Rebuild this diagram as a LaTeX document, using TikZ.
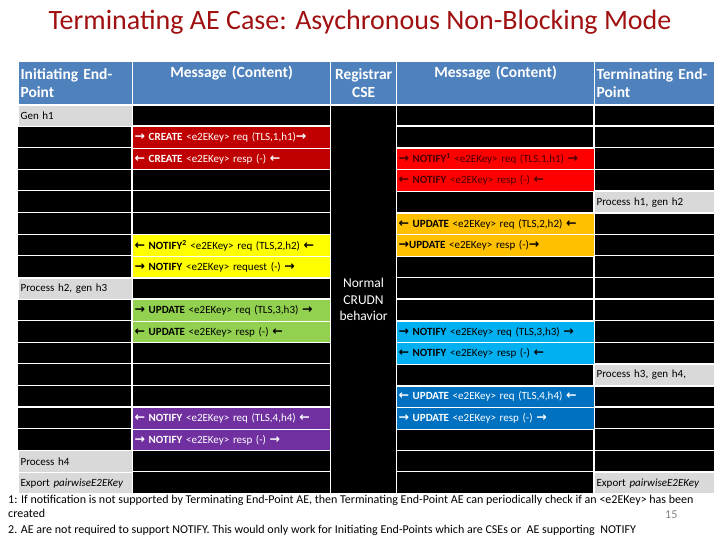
\documentclass[tikz,border=0pt]{standalone}
\usepackage{fontspec}
\setmainfont{Carlito}
\newfontfamily\arrowfont{DejaVu Sans}
\newcommand{\arrR}{{\arrowfont\bfseries\fontsize{12.5}{13}\selectfont →}}
\newcommand{\arrL}{{\arrowfont\bfseries\fontsize{12.5}{13}\selectfont ←}}
\definecolor{hdrblue}{HTML}{4F81BD}
\definecolor{dred}{HTML}{C00000}
\definecolor{brred}{HTML}{FF0000}
\definecolor{orng}{HTML}{FFC000}
\definecolor{yllw}{HTML}{FFFF00}
\definecolor{grn}{HTML}{92D050}
\definecolor{lblue}{HTML}{00B0F0}
\definecolor{dblue}{HTML}{0070C0}
\definecolor{prpl}{HTML}{7030A0}
\definecolor{lgray}{HTML}{D9D9D9}
\definecolor{titlered}{RGB}{160,16,16}
\definecolor{maroon}{RGB}{70,0,0}
\begin{document}
\begin{tikzpicture}[x=1pt, y=-1pt,
  cell/.style={draw=white, line width=1.2pt, anchor=north west, minimum height=21.6pt,
    inner ysep=0pt, inner xsep=2pt, align=left, font=\fontsize{11}{13}\selectfont},
  colA/.style={cell, text width=110pt, at={(18,{82.9+21.6*#1})}},
  colB/.style={cell, text width=194pt, at={(132,{82.9+21.6*#1})}},
  colD/.style={cell, text width=194pt, at={(396,{82.9+21.6*#1})}},
  colE/.style={cell, text width=116pt, at={(594,{82.9+21.6*#1})}},
  hdr/.style={draw=white, line width=1.2pt, anchor=north west, fill=hdrblue, text=white,
    minimum height=43.5pt, inner xsep=2pt, inner ysep=2pt, font=\fontsize{15.5}{18.5}\selectfont\bfseries},
  grid/.style={white, line width=1.2pt},
  note/.style={anchor=base west, inner sep=0pt, font=\fontsize{12}{14}\selectfont}]
\useasboundingbox (0,0) rectangle (720,540);
\node[text=titlered, font=\fontsize{28}{32}\selectfont] (title) at (360,22) {Terminating AE Case: Asychronous Non-Blocking Mode};

\fill[black] (18,104.5) rectangle (714,493.3);
\foreach \r in {1,...,17}
  \draw[grid] (18,{104.5+21.6*\r}) -- (330,{104.5+21.6*\r})
              (396,{104.5+21.6*\r}) -- (714,{104.5+21.6*\r});
\foreach \x in {132,594}
  \draw[grid] (\x,104.5) -- (\x,493.3);

\node[hdr, text width=110pt, align=left] (hinit) at (18,61) {Initiating End-\\Point};
\node[hdr, text width=194pt, align=center] (hmsg1) at (132,61) {Message (Content)\\\strut};
\node[hdr, text width=62pt, align=center] (hreg) at (330,61) {Registrar\\CSE};
\node[hdr, text width=194pt, align=center] (hmsg2) at (396,61) {Message (Content)\\\strut};
\node[hdr, text width=116pt, align=left] (hterm) at (594,61) {Terminating End-\\Point};

\node[colA=1, fill=lgray] (gen1) {Gen h1};
\node[colA=9, fill=lgray] (proc2) {Process h2, gen h3};
\node[colA=17, fill=lgray] (proc4) {Process h4};
\node[colA=18, fill=lgray] (exportA) {Export \textit{pairwiseE2EKey}};

\node[colB=2, fill=dred, text=white] (createreq) {\arrR{} \textbf{CREATE} <e2EKey> req (TLS,1,h1)\arrR};
\node[colB=3, fill=dred, text=white] (createresp) {\arrL{} \textbf{CREATE} <e2EKey> resp (-) \arrL};
\node[colB=7, fill=yllw] (notify2req) {\arrL{} \textbf{NOTIFY\textsuperscript{2}} <e2EKey> req (TLS,2,h2) \arrL};
\node[colB=8, fill=yllw] (notify2resp) {\arrR{} \textbf{NOTIFY} <e2EKey> request (-) \arrR};
\node[colB=10, fill=grn] (update3req) {\arrR{} \textbf{UPDATE} <e2EKey> req (TLS,3,h3) \arrR};
\node[colB=11, fill=grn] (update3resp) {\arrL{} \textbf{UPDATE} <e2EKey> resp (-) \arrL};
\node[colB=15, fill=prpl, text=white] (notify4req) {\arrL{} \textbf{NOTIFY} <e2EKey> req (TLS,4,h4) \arrL};
\node[colB=16, fill=prpl, text=white] (notify4resp) {\arrR{} \textbf{NOTIFY} <e2EKey> resp (-) \arrR};

\node[colD=3, fill=brred, text=maroon] (notify1req) {\arrR{} \textbf{NOTIFY\textsuperscript{1}} <e2EKey> req (TLS,1,h1) \arrR};
\node[colD=4, fill=brred, text=maroon] (notify1resp) {\arrL{} \textbf{NOTIFY} <e2EKey> resp (-) \arrL};
\node[colD=6, fill=orng] (update2req) {\arrL{} \textbf{UPDATE} <e2EKey> req (TLS,2,h2) \arrL};
\node[colD=7, fill=orng] (update2resp) {\arrR\textbf{UPDATE} <e2EKey> resp (-)\arrR};
\node[colD=11, fill=lblue] (notify3req) {\arrR{} \textbf{NOTIFY} <e2EKey> req (TLS,3,h3) \arrR};
\node[colD=12, fill=lblue] (notify3resp) {\arrL{} \textbf{NOTIFY} <e2EKey> resp (-) \arrL};
\node[colD=14, fill=dblue, text=white] (update4req) {\arrL{} \textbf{UPDATE} <e2EKey> req (TLS,4,h4) \arrL};
\node[colD=15, fill=dblue, text=white] (update4resp) {\arrR{} \textbf{UPDATE} <e2EKey> resp (-) \arrR};

\node[colE=5, fill=lgray] (proc1) {Process h1, gen h2};
\node[colE=13, fill=lgray] (proc3) {Process h3, gen h4,};
\node[colE=18, fill=lgray] (exportE) {Export \textit{pairwiseE2EKey}};

\node[draw=white, line width=1.2pt, fill=black, text=white, anchor=north west, minimum width=66pt,
  minimum height=388.8pt, align=center, font=\fontsize{13.5}{16.5}\selectfont] (reg) at (330,104.5)
  {Normal\\CRUDN\\behavior};

\node[note] (fn1) at (8,503) {1: If notification is not supported by Terminating End-Point AE, then Terminating End-Point AE can periodically check if an <e2EKey> has been};
\node[note] (fn1b) at (8,517) {created};
\node[note] (fn2) at (8,533) {2. AE are not required to support NOTIFY. This would only work for Initiating End-Points which are CSEs or\ \ AE supporting\ \ NOTIFY};
\node[note, text=gray] (pagenum) at (665,518) {15};
\end{tikzpicture}
\end{document}
